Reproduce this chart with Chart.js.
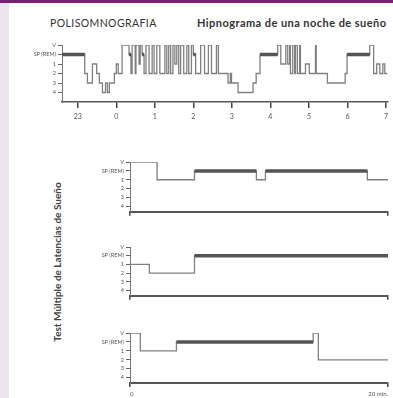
<!DOCTYPE html>
<html lang="es">
  <head>
    <meta charset="UTF-8" />
    <title>Polisomnografía</title>
    <script src="https://cdn.jsdelivr.net/npm/chart.js"></script>
    <style>
      body {
        margin: 0;
        width: 393px;
        height: 398px;
        background: #fff;
        position: relative;
        overflow: hidden;
        font-family: Lato, "Open Sans", sans-serif;
        color: #333;
      }
      .strip { position: absolute; left: 0; top: 0; width: 9px; height: 398px; background: #ece3ee; }
      .bar { position: absolute; left: 0; top: 0; width: 393px; height: 3px; background: #7b1f6c; }
      .title { position: absolute; top: 16px; font-size: 10.5px; line-height: 14px; white-space: nowrap; }
      #t1 { left: 50px; letter-spacing: 0.4px; }
      #t2 { left: 197px; font-weight: bold; font-size: 11px; letter-spacing: 0.45px; }
      .side {
        position: absolute;
        left: 57px;
        top: 262px;
        transform: translate(-50%, -50%) rotate(-90deg);
        font-weight: bold;
        font-size: 10px;
        white-space: nowrap;
        color: #444;
      }
      canvas { position: absolute; }
    </style>
  </head>

  <body>
    <div class="strip"></div>
    <div class="bar"></div>
    <div class="title" id="t1">POLISOMNOGRAFIA</div>
    <div class="title" id="t2">Hipnograma de una noche de sueño</div>
    <div class="side">Test Múltiple de Latencias de Sueño</div>

    <canvas id="hyp" width="383" height="89" style="left:10px;top:38px"></canvas>
    <canvas id="mslt1" width="323" height="62" style="left:70px;top:155px"></canvas>
    <canvas id="mslt2" width="323" height="61" style="left:70px;top:240px"></canvas>
    <canvas id="mslt3" width="323" height="72" style="left:70px;top:326px"></canvas>

    <script>
      // stage labels (0 = awake ... 5 = stage 4)
      const stageLabels = ["V", "SP (REM)", "1", "2", "3", "4"];

      // night hypnogram: hours relative to midnight, stage index
      const hourTicks = [-1, 0, 1, 2, 3, 4, 5, 6, 7];
      const hourLabels = ["23", "0", "1", "2", "3", "4", "5", "6", "7"];
      const hypTime = [
        -1.41, -0.82, -0.75, -0.62, -0.51, -0.44, -0.36, -0.28, -0.23, -0.18,
        -0.05, 0.0, 0.05, 0.15, 0.33, 0.38, 0.41, 0.49, 0.51, 0.59,
        0.62, 0.67, 0.72, 0.77, 0.85, 0.93, 0.98, 1.05, 1.13, 1.26,
        1.31, 1.36, 1.41, 1.47, 1.52, 1.57, 1.62, 1.67, 1.75, 1.83,
        1.88, 1.95, 2.0, 2.06, 2.19, 2.29, 2.39, 2.47, 2.6, 2.65,
        2.9, 2.96, 2.99, 3.16, 3.55, 3.63, 3.73, 4.19, 4.27, 4.4,
        4.45, 4.5, 4.52, 4.58, 4.63, 4.65, 4.7, 4.76, 4.78, 4.91,
        5.01, 5.17, 5.19, 5.48, 5.94, 5.99, 6.58, 6.68, 6.76, 6.84,
        6.92, 6.97,
      ];
      const hypStage = [
        1, 3, 4, 2, 3, 4, 5, 4, 5, 4,
        3, 2, 3, 0, 1, 3, 0, 3, 0, 2,
        0, 1, 3, 0, 3, 0, 3, 0, 3, 0,
        3, 0, 3, 0, 2, 0, 3, 0, 3, 0,
        3, 0, 1, 3, 0, 3, 0, 3, 0, 3,
        4, 3, 4, 5, 4, 3, 1, 0, 2, 0,
        2, 0, 3, 0, 3, 0, 3, 0, 3, 2,
        3, 0, 3, 4, 3, 1, 0, 3, 2, 3,
        2, 3,
      ];
      const hypEnd = 7.04;

      // MSLT naps: minutes, stage index
      const minTicks = [0, 20];
      const minLabels = ["0", "20 min."];
      const nap1Time = [0, 2.1, 5.0, 9.8, 10.5, 18.4];
      const nap1Stage = [0, 2, 1, 2, 1, 2];
      const nap2Time = [0, 1.5, 5.0];
      const nap2Stage = [2, 3, 1];
      const nap3Time = [0, 0.8, 3.6, 14.2, 14.6];
      const nap3Stage = [0, 2, 1, 0, 3];
      const napEnd = 20;

      Chart.defaults.font.family = "Lato, 'Open Sans', sans-serif";
      Chart.defaults.color = "#555";

      function stepPoints(times, stages, end) {
        const pts = times.map((t, i) => ({ x: t, y: stages[i] }));
        pts.push({ x: end, y: stages[stages.length - 1] });
        return pts;
      }

      // thick bars for REM (SP) periods
      function remPoints(times, stages, end) {
        const pts = [];
        stages.forEach((s, i) => {
          if (s !== 1) return;
          const next = i + 1 < times.length ? times[i + 1] : end;
          pts.push({ x: times[i], y: 1 }, { x: next, y: 1 }, { x: next, y: null });
        });
        return pts;
      }

      function yScale(max, width) {
        return {
          type: "linear",
          reverse: true,
          min: 0,
          max: max,
          afterBuildTicks: (s) => {
            s.ticks = stageLabels.map((_, i) => ({ value: i }));
          },
          afterFit: (s) => {
            s.width = width;
          },
          ticks: {
            autoSkip: false,
            callback: (v) => stageLabels[v],
            font: { size: 5.5 },
            color: "#555",
            padding: 2,
          },
          grid: { drawOnChartArea: false, tickLength: 4, color: "#666" },
          border: { color: "#777", width: 1 },
        };
      }

      function drawChart(id, times, stages, end, xScale, yMax, yWidth, padTop, padRight) {
        new Chart(document.getElementById(id), {
          type: "line",
          data: {
            datasets: [
              {
                data: remPoints(times, stages, end),
                borderColor: "#555",
                borderWidth: 3.5,
                pointRadius: 0,
                spanGaps: false,
              },
              {
                data: stepPoints(times, stages, end),
                stepped: true,
                borderColor: "#808080",
                borderWidth: 1.3,
                pointRadius: 0,
              },
            ],
          },
          options: {
            responsive: false,
            animation: false,
            devicePixelRatio: 1,
            layout: { padding: { top: padTop, right: padRight, left: 0, bottom: 0 } },
            plugins: { legend: { display: false }, tooltip: { enabled: false } },
            scales: { x: xScale, y: yScale(yMax, yWidth) },
          },
        });
      }

      // night hypnogram
      drawChart(
        "hyp", hypTime, hypStage, hypEnd,
        {
          type: "linear",
          min: -1.41,
          max: hypEnd,
          afterBuildTicks: (s) => {
            s.ticks = hourTicks.map((v) => ({ value: v }));
          },
          afterFit: (s) => {
            s.height = 25;
          },
          ticks: {
            autoSkip: false,
            maxRotation: 0,
            callback: (v, i) => hourLabels[i],
            font: { size: 7 },
            color: "#555",
            padding: 5,
          },
          grid: { drawOnChartArea: false, tickLength: 6, color: "#444", lineWidth: 1.5 },
          border: { color: "#555", width: 1.5 },
        },
        6, 52, 7, 2
      );

      function napX(height, showLabels) {
        return {
          type: "linear",
          min: 0,
          max: napEnd,
          afterBuildTicks: (s) => {
            s.ticks = minTicks.map((v) => ({ value: v }));
          },
          afterFit: (s) => {
            s.height = height;
          },
          ticks: {
            display: showLabels,
            autoSkip: false,
            maxRotation: 0,
            align: "inner",
            callback: (v, i) => minLabels[i],
            font: { size: 6 },
            color: "#555",
            padding: 3,
          },
          grid: { drawOnChartArea: false, tickLength: 4, color: "#444", lineWidth: 1.5 },
          border: { color: "#555", width: 2 },
        };
      }

      drawChart("mslt1", nap1Time, nap1Stage, napEnd, napX(4, false), 5.6, 60, 7, 5);
      drawChart("mslt2", nap2Time, nap2Stage, napEnd, napX(4, false), 5.6, 60, 7, 5);
      drawChart("mslt3", nap3Time, nap3Stage, napEnd, napX(15, true), 5.6, 60, 7, 5);
    </script>
  </body>
</html>
